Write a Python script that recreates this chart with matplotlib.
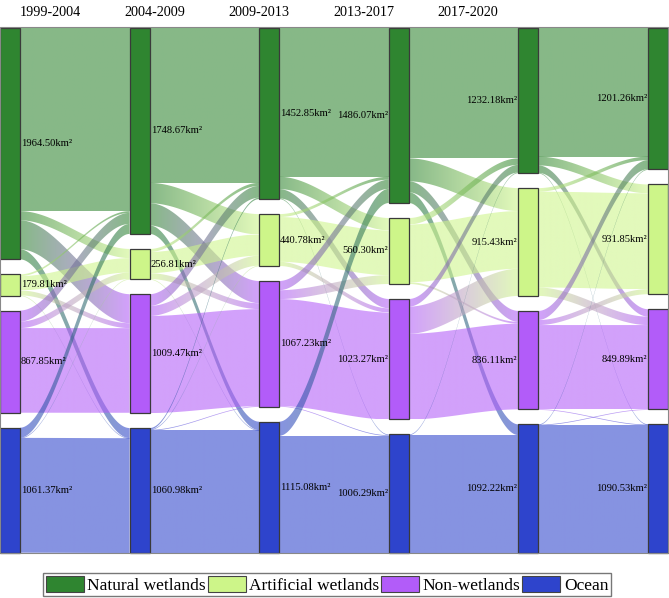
import numpy as np
import matplotlib
matplotlib.use("Agg")
import matplotlib.pyplot as plt
from matplotlib.patches import Polygon, Rectangle
from matplotlib.colors import to_rgb

plt.rcParams['font.family'] = ['Liberation Serif', 'DejaVu Serif']

# ---- data ----
periods = ["1999-2004", "2004-2009", "2009-2013", "2013-2017", "2017-2020"]
classes = ["Natural wetlands", "Artificial wetlands", "Non-wetlands", "Ocean"]
colors = ["#2f8530", "#cdf589", "#b25cf9", "#2e44cc"]

# node areas (km²) for each column, order = classes
col_1999 = [1964.50, 179.81, 867.85, 1061.37]
col_2004 = [1748.67, 256.81, 1009.47, 1060.98]
col_2009 = [1452.85, 440.78, 1067.23, 1115.08]
col_2013 = [1486.07, 560.30, 1023.27, 1006.29]
col_2017 = [1232.18, 915.43, 836.11, 1092.22]
col_2020 = [1201.26, 931.85, 849.89, 1090.53]
columns = [col_1999, col_2004, col_2009, col_2013, col_2017, col_2020]

# transfers between consecutive columns (rows = from, cols = to), estimated
flow_1999_2004 = [[1555.00, 78.00, 246.50, 85.00],
                  [15.00, 122.00, 41.83, 0.98],
                  [93.67, 55.44, 718.74, 0.00],
                  [85.00, 1.37, 0.00, 975.00]]
flow_2004_2009 = [[1315.00, 173.00, 188.67, 72.00],
                  [25.85, 180.00, 50.00, 0.96],
                  [100.00, 85.00, 824.47, 0.00],
                  [12.00, 2.78, 4.09, 1042.11]]
flow_2009_2013 = [[1263.00, 105.00, 78.85, 6.00],
                  [25.00, 380.00, 35.78, 0.00],
                  [78.07, 75.30, 908.64, 5.22],
                  [120.00, 0.00, 0.00, 995.08]]
flow_2013_2017 = [[1107.00, 195.00, 93.00, 91.07],
                  [55.00, 490.00, 15.30, 0.00],
                  [65.00, 230.43, 727.84, 0.00],
                  [5.18, 0.00, 0.00, 1001.11]]
flow_2017_2020 = [[1092.00, 75.00, 63.00, 2.18],
                  [30.00, 813.85, 71.58, 0.00],
                  [77.00, 43.00, 715.00, 1.11],
                  [2.26, 0.00, 0.30, 1089.66]]
flows = [flow_1999_2004, flow_2004_2009, flow_2009_2013, flow_2013_2017, flow_2017_2020]

# ---- layout (pixel units) ----
W, H = 669, 598
top, bottom = 28, 553
node_w = 20
gap = 15
scale = (bottom - top - gap * 3) / max(sum(c) for c in columns)
col_x = np.linspace(0, W - 1 - node_w, len(columns))

node_y = []
for c in columns:
    ys = []
    y = top
    for v in c:
        ys.append(y)
        y += v * scale + gap
    node_y.append(ys)

fig = plt.figure(figsize=(W / 100, H / 100), dpi=100)
ax = fig.add_axes([0, 0, 1, 1])
ax.axis('off')


def draw_link(x0, x1, y0, y1, w, c0, c1):
    w = max(w, 0.7)
    xs = np.linspace(x0, x1, 80)
    s = (xs - x0) / (x1 - x0)
    f = 3 * s ** 2 - 2 * s ** 3
    up = y0 + (y1 - y0) * f
    lo = up + w
    verts = np.vstack([np.column_stack([xs, up]), np.column_stack([xs[::-1], lo[::-1]])])
    poly = Polygon(verts, closed=True, facecolor='none', edgecolor='none')
    ax.add_patch(poly)
    t = np.linspace(0, 1, 64)[:, None]
    rgb = (1 - t) * np.array(to_rgb(c0)) + t * np.array(to_rgb(c1))
    img = np.dstack([rgb[:, 0], rgb[:, 1], rgb[:, 2], np.full(64, 0.58)])
    im = ax.imshow(img, extent=[x0, x1, lo.max(), up.min()], aspect='auto',
                   interpolation='bilinear', zorder=1)
    im.set_clip_path(poly)


for k, fm in enumerate(flows):
    fm = np.array(fm)
    src_off = list(node_y[k])
    tgt_off = list(node_y[k + 1])
    widths = fm * scale
    # outgoing ordered by target, incoming ordered by source
    starts = np.zeros_like(fm)
    ends = np.zeros_like(fm)
    for i in range(4):
        for j in range(4):
            starts[i, j] = src_off[i]
            src_off[i] += widths[i, j]
    for j in range(4):
        for i in range(4):
            ends[i, j] = tgt_off[j]
            tgt_off[j] += widths[i, j]
    for i in range(4):
        for j in range(4):
            if fm[i, j] <= 0:
                continue
            draw_link(col_x[k] + node_w, col_x[k + 1], starts[i, j], ends[i, j],
                      widths[i, j], colors[i], colors[j])

# nodes and labels
for k, c in enumerate(columns):
    for i, v in enumerate(c):
        y = node_y[k][i]
        h = v * scale
        ax.add_patch(Rectangle((col_x[k], y), node_w, h, facecolor=colors[i],
                               edgecolor='#3a3a3a', lw=0.9, zorder=3))
        lab = f"{v:.2f}km²"
        if k < 3:
            ax.text(col_x[k] + node_w + 1, y + h / 2, lab, ha='left', va='center',
                    fontsize=7.6, zorder=4)
        else:
            ax.text(col_x[k] - 1, y + h / 2, lab, ha='right', va='center',
                    fontsize=7.6, zorder=4)

# frame around the diagram
ax.add_patch(Rectangle((0, top - 1), W - 1, bottom - top + 1, facecolor='none',
                       edgecolor='#888888', lw=0.8, zorder=5))

# period titles
for i, p in enumerate(periods):
    ax.text(50 + i * 104.5, 13, p, ha='center', va='center', fontsize=10.2)

ax.set_xlim(0, W)
ax.set_ylim(H, 0)

handles = [Rectangle((0, 0), 1, 1, facecolor=c, edgecolor='#444444', lw=0.8) for c in colors]
fig.legend(handles, classes, loc='upper center', bbox_to_anchor=(327 / W, 1 - 573 / H),
           ncol=4, fontsize=12.5, frameon=True, fancybox=False, edgecolor='#555555',
           handlelength=2.2, handleheight=1.1, handletextpad=0.2, columnspacing=0.1,
           borderpad=0.15, borderaxespad=0)

fig.savefig("out.png", dpi=100)
